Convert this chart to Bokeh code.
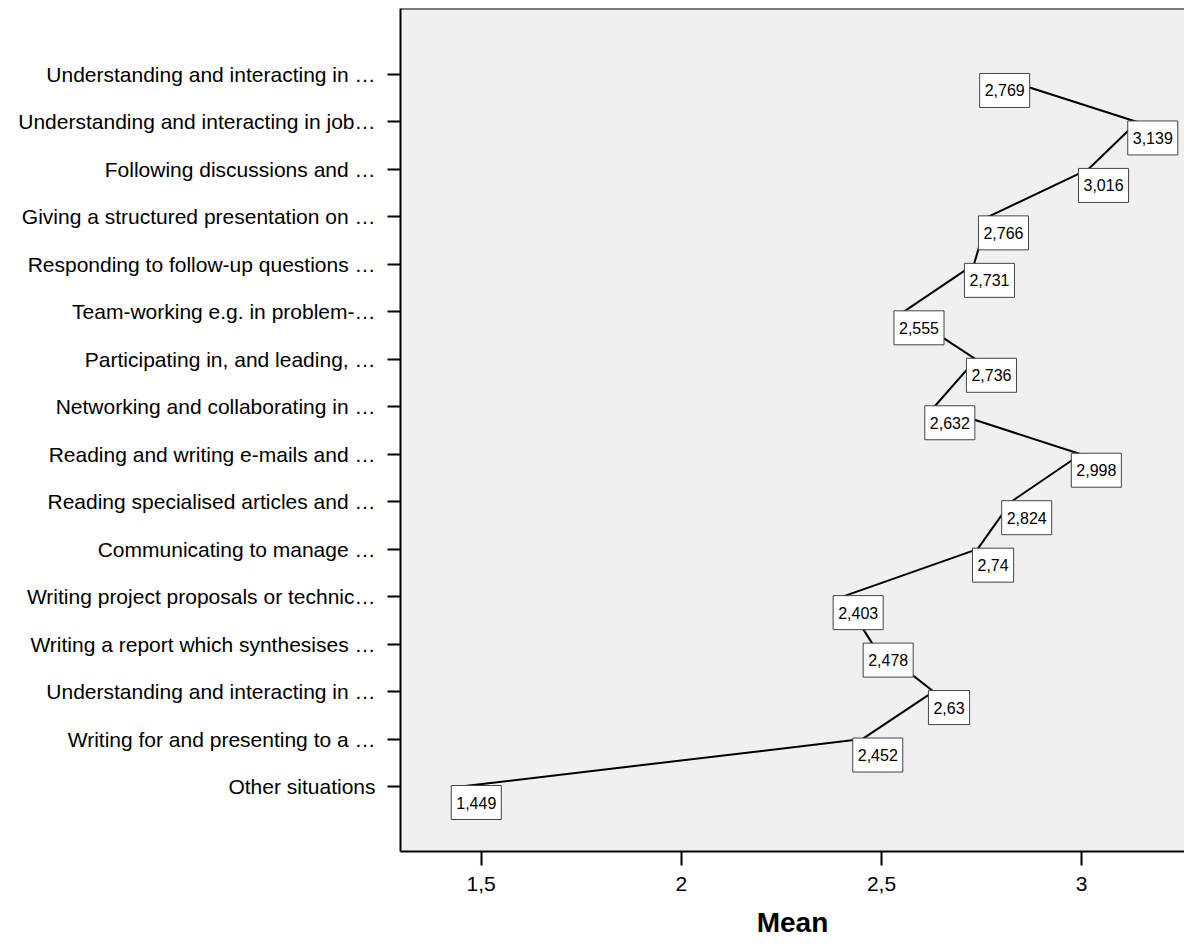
from bokeh.plotting import figure
from bokeh.models import Range1d, FixedTicker, Label, Span
from bokeh.embed import file_html
from bokeh.resources import INLINE

categories = [
    "Understanding and interacting in …",
    "Understanding and interacting in job…",
    "Following discussions and …",
    "Giving a structured presentation on …",
    "Responding to follow-up questions …",
    "Team-working e.g. in problem-…",
    "Participating in, and leading, …",
    "Networking and collaborating in …",
    "Reading and writing e-mails and …",
    "Reading specialised articles and …",
    "Communicating to manage …",
    "Writing project proposals or technic…",
    "Writing a report which synthesises …",
    "Understanding and interacting in …",
    "Writing for and presenting to a …",
    "Other situations",
]
means = [2.769, 3.139, 3.016, 2.766, 2.731, 2.555, 2.736, 2.632,
         2.998, 2.824, 2.74, 2.403, 2.478, 2.63, 2.452, 1.449]
value_labels = ["2,769", "3,139", "3,016", "2,766", "2,731", "2,555", "2,736", "2,632",
                "2,998", "2,824", "2,74", "2,403", "2,478", "2,63", "2,452", "1,449"]
x_ticks = [1.5, 2, 2.5, 3]
x_tick_labels = ["1,5", "2", "2,5", "3"]

FONT = "Liberation Sans"
n = len(categories)
idx = list(range(n))

p = figure(width=1184, height=944, output_backend="svg", toolbar_location=None,
           x_range=Range1d(1.2984, 3.257),
           y_range=Range1d(n - 1 + 1.369, -1.390),
           min_border_left=400, min_border_right=0, min_border_top=8, min_border_bottom=93)
p.outline_line_color = None
p.background_fill_color = "#F0F0F0"
p.border_fill_color = "white"
p.xgrid.visible = False
p.ygrid.visible = False

p.line(means, idx, line_color="black", line_width=2)

for v, i, t in zip(means, idx, value_labels):
    p.add_layout(Label(x=v, y=i, text=t, x_offset=15.5, y_offset=-16,
                       text_align="center", text_baseline="middle",
                       text_font=FONT, text_font_size="16px", text_color="black",
                       background_fill_color="white", border_line_color="#444444",
                       border_line_width=1,
                       padding=dict(left=5, right=5, top=11, bottom=11)))

p.add_layout(Span(location=-1.390, dimension="width", line_color="black", line_width=2))

# y axis
yax = p.yaxis[0]
yax.ticker = FixedTicker(ticks=idx)
yax.major_label_overrides = {i: c for i, c in zip(idx, categories)}
yax.major_label_text_font = FONT
yax.major_label_text_font_size = "21px"
yax.major_label_text_color = "black"
yax.major_tick_out = 13
yax.major_tick_in = 0
yax.minor_tick_out = 0
yax.minor_tick_in = 0
yax.major_tick_line_width = 2
yax.axis_line_width = 2
yax.major_label_standoff = 12

# x axis
xax = p.xaxis[0]
xax.ticker = FixedTicker(ticks=x_ticks)
xax.major_label_overrides = {t: l for t, l in zip(x_ticks, x_tick_labels)}
xax.major_label_text_font = FONT
xax.major_label_text_font_size = "21px"
xax.major_label_text_color = "black"
xax.major_tick_out = 14
xax.major_tick_in = 0
xax.minor_tick_out = 0
xax.minor_tick_in = 0
xax.major_tick_line_width = 2
xax.axis_line_width = 2
xax.major_label_standoff = 11
xax.axis_label = "Mean"
xax.axis_label_text_font = FONT
xax.axis_label_text_font_size = "28px"
xax.axis_label_text_font_style = "bold"
xax.axis_label_text_color = "black"
xax.axis_label_standoff = 13

open("out.html", "w").write(file_html(p, INLINE))
